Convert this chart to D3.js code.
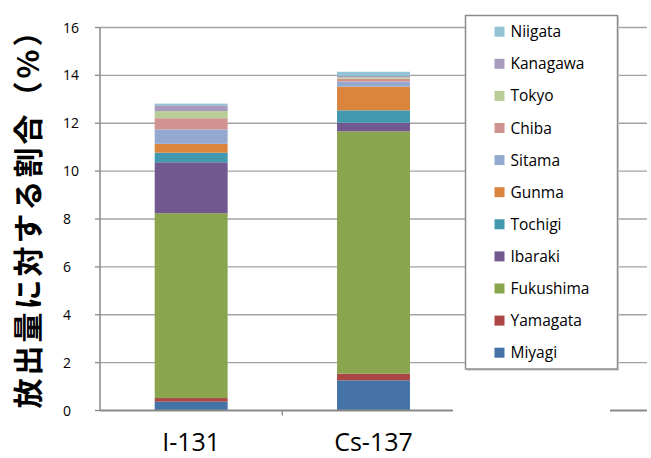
<!DOCTYPE html>
<html>
<head>
<meta charset="utf-8">
<script src="https://cdnjs.cloudflare.com/ajax/libs/d3/7.8.5/d3.min.js"></script>
<style>
  html, body { margin: 0; padding: 0; background: #fff; }
  svg { display: block; }
</style>
</head>
<body>
<svg id="chart" width="651" height="458"></svg>
<script>
// Share of released amount by prefecture, stacked per nuclide
const categories = ["I-131", "Cs-137"];
const prefectures = ["Miyagi", "Yamagata", "Fukushima", "Ibaraki", "Tochigi", "Gunma",
                     "Sitama", "Chiba", "Tokyo", "Kanagawa", "Niigata"];
const i131Values  = [0.37, 0.15, 7.72, 2.13, 0.40, 0.37, 0.60, 0.47, 0.30, 0.24, 0.07];
const cs137Values = [1.26, 0.28, 10.12, 0.36, 0.52, 0.99, 0.21, 0.12, 0.06, 0.06, 0.17];
const colors = ["#4572A7", "#AA4643", "#89A54E", "#71588F", "#4198AF", "#DB843D",
                "#93A9CF", "#D19392", "#B9CD96", "#A99BBD", "#92C4D6"];
const yTicks = [0, 2, 4, 6, 8, 10, 12, 14, 16];
const yTitle = "放出量に対する割合（%）";

const rows = categories.map((c, ci) => {
  const vals = ci === 0 ? i131Values : cs137Values;
  const r = { category: c };
  prefectures.forEach((p, i) => { r[p] = vals[i]; });
  return r;
});

const svg = d3.select("#chart");
const plot = { left: 100, right: 647, top: 27.5, bottom: 410.5 };
// two nuclide slots occupy the first two thirds of the plot width
const slotWidth = (plot.right - plot.left) / 3;

const y = d3.scaleLinear().domain([0, 16]).range([plot.bottom, plot.top]);
const x = d3.scaleBand().domain(categories)
  .range([plot.left, plot.left + slotWidth * 2])
  .paddingInner(0.6).paddingOuter(0.3);

const gridColor = "#a3a3a3";
const axisColor = "#8a8a8a";

// horizontal gridlines
svg.append("g").selectAll("line").data(yTicks.filter(t => t > 0)).join("line")
  .attr("x1", plot.left).attr("x2", plot.right)
  .attr("y1", d => y(d)).attr("y2", d => y(d))
  .attr("stroke", gridColor).attr("stroke-width", 1.3);

// y axis line and tick marks
svg.append("line")
  .attr("x1", plot.left).attr("x2", plot.left)
  .attr("y1", y(16)).attr("y2", y(0))
  .attr("stroke", axisColor).attr("stroke-width", 1.5);
svg.append("g").selectAll("line").data(yTicks).join("line")
  .attr("x1", plot.left - 5).attr("x2", plot.left)
  .attr("y1", d => y(d)).attr("y2", d => y(d))
  .attr("stroke", axisColor).attr("stroke-width", 1.3);

// y tick labels
svg.append("g").selectAll("text").data(yTicks).join("text")
  .attr("x", 63).attr("y", d => y(d))
  .attr("dy", "0.36em")
  .attr("font-family", "'Open Sans', sans-serif")
  .attr("font-size", 14)
  .attr("fill", "#000")
  .text(d => d);

// stacked bars
const stack = d3.stack().keys(prefectures);
const series = stack(rows);
svg.append("g").selectAll("g").data(series).join("g")
  .attr("fill", (d, i) => colors[i])
  .selectAll("rect").data(d => d).join("rect")
  .attr("x", d => x(d.data.category))
  .attr("width", x.bandwidth())
  .attr("y", d => y(d[1]))
  .attr("height", d => y(d[0]) - y(d[1]));

// x axis line, with a blank stretch under the legend
svg.append("line")
  .attr("x1", plot.left).attr("x2", plot.right)
  .attr("y1", plot.bottom).attr("y2", plot.bottom)
  .attr("stroke", axisColor).attr("stroke-width", 2);
svg.append("rect")
  .attr("x", 453).attr("y", plot.bottom - 3)
  .attr("width", 157).attr("height", 8)
  .attr("fill", "#fff");

// tick between the two categories
const boundary = (x(categories[0]) + x.bandwidth() + x(categories[1])) / 2;
svg.append("line")
  .attr("x1", boundary).attr("x2", boundary)
  .attr("y1", plot.bottom).attr("y2", plot.bottom + 5)
  .attr("stroke", axisColor).attr("stroke-width", 1.3);

// category labels
svg.append("g").selectAll("text").data(categories).join("text")
  .attr("x", d => x(d) + x.bandwidth() / 2)
  .attr("y", 451)
  .attr("text-anchor", "middle")
  .attr("font-family", "'Open Sans', sans-serif")
  .attr("font-size", 25)
  .attr("fill", "#000")
  .text(d => d);

// y axis title
svg.append("text")
  .attr("transform", "translate(39,211) rotate(-90)")
  .attr("text-anchor", "middle")
  .attr("font-family", "'Noto Sans CJK JP', sans-serif")
  .attr("font-weight", "bold")
  .attr("font-size", 30)
  .attr("letter-spacing", 3)
  .attr("fill", "#000")
  .text(yTitle);

// legend box
const legend = svg.append("g");
legend.append("rect")
  .attr("x", 467).attr("y", 17)
  .attr("width", 152).attr("height", 354)
  .attr("fill", "#d8d8d8");
legend.append("rect")
  .attr("x", 465.5).attr("y", 15.5)
  .attr("width", 152).attr("height", 353.5)
  .attr("fill", "#fff")
  .attr("stroke", "#8c8c8c").attr("stroke-width", 1.5);

const legendOrder = prefectures.map((p, i) => ({ name: p, color: colors[i] })).reverse();
const items = legend.selectAll("g.item").data(legendOrder).join("g")
  .attr("class", "item")
  .attr("transform", (d, i) => `translate(494.5,${31.7 + i * 32.1})`);
items.append("rect")
  .attr("x", 0).attr("y", -5)
  .attr("width", 10).attr("height", 10)
  .attr("fill", d => d.color);
items.append("text")
  .attr("x", 16).attr("y", 0)
  .attr("dy", "0.36em")
  .attr("font-family", "'Open Sans', sans-serif")
  .attr("font-size", 15.5)
  .attr("fill", "#000")
  .text(d => d.name);
</script>
</body>
</html>
